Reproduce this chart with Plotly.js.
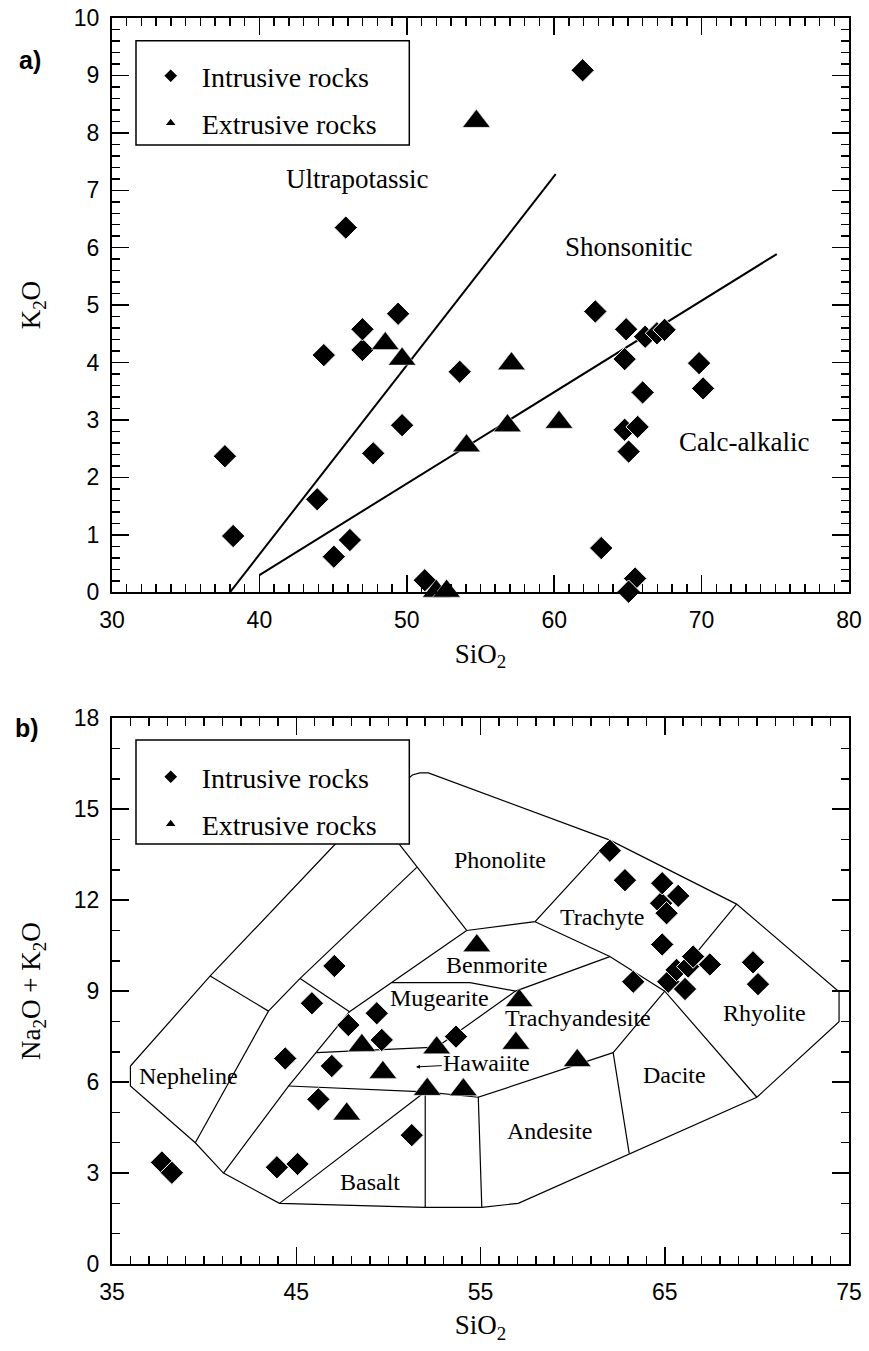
<!DOCTYPE html>
<html><head><meta charset="utf-8">
<script src="https://cdn.plot.ly/plotly-3.0.1.min.js"></script>
<style>html,body{margin:0;padding:0;background:#fff}</style>
</head><body><div id="chart" style="width:869px;height:1351px"></div>
<script>
// ---------- Panel a) K2O vs SiO2 ----------
const intrusiveA_SiO2 = [37.66, 38.22, 43.92, 44.37, 45.05, 45.86, 46.14, 46.99, 46.99, 47.72, 49.41, 49.68, 51.22, 53.59, 61.93, 62.79, 63.19, 64.78, 64.78, 64.88, 65.49, 65.05, 65.05, 65.66, 66.0, 66.17, 66.97, 67.49, 69.83, 70.10];
const intrusiveA_K2O  = [2.37, 0.98, 1.62, 4.13, 0.62, 6.35, 0.91, 4.22, 4.58, 2.42, 4.85, 2.91, 0.21, 3.84, 9.09, 4.89, 0.77, 4.06, 2.83, 4.58, 0.24, 0.01, 2.45, 2.88, 3.48, 4.45, 4.51, 4.57, 3.99, 3.55];
const extrusiveA_SiO2 = [48.54, 49.68, 52.0, 52.7, 54.05, 54.72, 56.83, 57.10, 60.33];
const extrusiveA_K2O  = [4.33, 4.06, 0.02, 0.02, 2.55, 8.2, 2.9, 3.98, 2.96];
// series boundaries
const ultraBoundX = [38.0, 60.1];
const ultraBoundY = [0.0, 7.28];
const shoshBoundX = [40.0, 75.1];
const shoshBoundY = [0.3, 5.89];

// ---------- Panel b) TAS ----------
const intrusiveB_SiO2 = [37.71, 38.25, 43.95, 44.4, 45.07, 45.85, 46.2, 46.93, 47.07, 47.83, 49.37, 49.64, 51.27, 53.67, 62.02, 62.84, 63.29, 64.8, 64.86, 64.86, 65.1, 65.19, 65.64, 65.73, 66.1, 66.27, 66.54, 67.45, 69.79, 70.06];
const intrusiveB_Alk  = [3.35, 3.01, 3.19, 6.78, 3.30, 8.6, 5.43, 6.53, 9.83, 7.88, 8.27, 7.39, 4.25, 7.5, 13.63, 12.66, 9.31, 11.9, 12.56, 10.54, 11.57, 9.31, 9.70, 12.14, 9.07, 9.81, 10.14, 9.88, 9.95, 9.23];
const extrusiveB_SiO2 = [47.74, 48.56, 49.7, 52.11, 52.62, 54.07, 54.8, 56.92, 57.1, 60.25];
const extrusiveB_Alk  = [4.95, 7.21, 6.32, 5.76, 7.13, 5.75, 10.5, 7.28, 8.69, 6.71];

// TAS field boundaries (SiO2, Na2O+K2O)
const tasOuterX = [36.0, 40.33, 47.07, 51.0, 51.3, 51.7, 52.17, 62.02, 68.9, 74.46, 74.46, 70.0, 57.05, 55.07, 52.0, 44.09, 41.05, 39.52, 36.0, 36.0];
const tasOuterY = [6.53, 9.5, 13.82, 15.98, 16.13, 16.2, 16.2, 13.98, 11.87, 8.98, 7.99, 5.5, 2.0, 1.87, 1.87, 2.0, 3.0, 4.0, 5.87, 6.53];
const tasB1X = [40.33, 43.49];            const tasB1Y = [9.5, 8.34];
const tasB2X = [39.52, 43.49, 45.21, 51.54]; const tasB2Y = [4.0, 8.34, 9.42, 13.08];
const tasB3X = [45.21, 47.89];            const tasB3Y = [9.42, 8.32];
const tasB4X = [41.05, 44.58, 47.89, 54.25]; const tasB4Y = [3.0, 5.87, 8.32, 11.0];
const tasB5X = [49.03, 54.25];            const tasB5Y = [15.06, 11.0];
const tasB6X = [54.25, 57.96, 62.02];     const tasB6Y = [11.0, 11.29, 13.98];
const tasB7X = [57.96, 62.02, 65.0, 70.0]; const tasB7Y = [11.29, 10.14, 9.0, 5.5];
const tasB8X = [68.9, 65.0];              const tasB8Y = [11.87, 9.0];
const tasB9X = [65.0, 62.2, 63.07];       const tasB9Y = [9.0, 6.97, 3.65];
const tasB10X = [62.2, 54.88, 55.07];     const tasB10Y = [6.97, 5.5, 1.87];
const tasB11X = [44.58, 52.0, 54.88];     const tasB11Y = [5.87, 5.68, 5.5];
const tasB12X = [52.0, 52.0];             const tasB12Y = [1.87, 5.68];
const tasB13X = [44.09, 52.0];            const tasB13Y = [2.0, 5.68];
const tasB14X = [46.1, 52.62];            const tasB14Y = [6.97, 7.15];
const tasB15X = [52.62, 56.9, 62.02];     const tasB15Y = [7.15, 9.0, 10.14];
const tasB16X = [50.18, 54.43, 56.9];     const tasB16Y = [9.28, 9.28, 9.0];

const tasLines = [
  [tasOuterX, tasOuterY], [tasB1X, tasB1Y], [tasB2X, tasB2Y], [tasB3X, tasB3Y], [tasB4X, tasB4Y],
  [tasB5X, tasB5Y], [tasB6X, tasB6Y], [tasB7X, tasB7Y], [tasB8X, tasB8Y], [tasB9X, tasB9Y],
  [tasB10X, tasB10Y], [tasB11X, tasB11Y], [tasB12X, tasB12Y], [tasB13X, tasB13Y], [tasB14X, tasB14Y],
  [tasB15X, tasB15Y], [tasB16X, tasB16Y]
];

const fieldNames = ['Phonolite', 'Trachyte', 'Benmorite', 'Mugearite', 'Trachyandesite', 'Nepheline', 'Basalt', 'Andesite', 'Dacite', 'Rhyolite'];
const fieldX = [56.06, 61.57, 55.88, 52.8, 60.3, 39.15, 49.0, 58.77, 65.55, 70.42];
const fieldY = [13.32, 11.45, 9.86, 8.76, 8.1, 6.2, 2.71, 4.4, 6.23, 8.27];

const seriesNames = ['Ultrapotassic', 'Shonsonitic', 'Calc-alkalic'];
const seriesX = [46.64, 65.06, 72.86];
const seriesY = [7.2, 6.02, 2.61];

// ---------- styling ----------
const SERIF = 'Liberation Serif, Times New Roman, serif';
const SANS = 'Liberation Sans, Arial, sans-serif';
const lineStyleA = {color: 'black', width: 2};
const lineStyleB = {color: 'black', width: 1.2};
const diamond = {symbol: 'diamond', size: 18, color: 'black', line: {color: 'white', width: 1}};
const triangle = {symbol: 'triangle-up', size: 24, color: 'black', line: {color: 'white', width: 0.5}};

const traces = [];
traces.push({x: ultraBoundX, y: ultraBoundY, xaxis: 'x', yaxis: 'y', mode: 'lines', line: lineStyleA, showlegend: false, hoverinfo: 'skip'});
traces.push({x: shoshBoundX, y: shoshBoundY, xaxis: 'x', yaxis: 'y', mode: 'lines', line: lineStyleA, showlegend: false, hoverinfo: 'skip'});
traces.push({x: intrusiveA_SiO2, y: intrusiveA_K2O, xaxis: 'x', yaxis: 'y', mode: 'markers', marker: diamond, name: 'Intrusive rocks', legend: 'legend', legendgroup: 'a1', cliponaxis: false});
traces.push({x: extrusiveA_SiO2, y: extrusiveA_K2O, xaxis: 'x', yaxis: 'y', mode: 'markers', marker: triangle, name: 'Extrusive rocks', legend: 'legend', legendgroup: 'a2', cliponaxis: false});
tasLines.forEach(function(l) {
  traces.push({x: l[0], y: l[1], xaxis: 'x2', yaxis: 'y2', mode: 'lines', line: lineStyleB, showlegend: false, hoverinfo: 'skip'});
});
traces.push({x: intrusiveB_SiO2, y: intrusiveB_Alk, xaxis: 'x2', yaxis: 'y2', mode: 'markers', marker: diamond, name: 'Intrusive rocks', legend: 'legend2', legendgroup: 'b1', cliponaxis: false});
traces.push({x: extrusiveB_SiO2, y: extrusiveB_Alk, xaxis: 'x2', yaxis: 'y2', mode: 'markers', marker: triangle, name: 'Extrusive rocks', legend: 'legend2', legendgroup: 'b2', cliponaxis: false});

function axis(extra) {
  const base = {
    showline: true, linecolor: 'black', linewidth: 2, mirror: 'ticks',
    ticks: 'inside', ticklen: 17, tickwidth: 1.5, tickcolor: 'black',
    showgrid: false, zeroline: false, fixedrange: true, automargin: false,
    tickfont: {family: SANS, size: 23, color: 'black'},
    ticklabelstandoff: 6
  };
  return Object.assign(base, extra);
}
function minor(dt) {
  return {ticks: 'inside', ticklen: 8, tickwidth: 1.5, tickcolor: 'black', dtick: dt, showgrid: false};
}

const annotations = [];
seriesNames.forEach(function(t, i) {
  annotations.push({text: t, x: seriesX[i], y: seriesY[i], xref: 'x', yref: 'y', showarrow: false,
    font: {family: SERIF, size: 27, color: 'black'}});
});
fieldNames.forEach(function(t, i) {
  annotations.push({text: t, x: fieldX[i], y: fieldY[i], xref: 'x2', yref: 'y2', showarrow: false,
    font: {family: SERIF, size: 24, color: 'black'}});
});
annotations.push({text: 'Hawaiite', x: 51.5, y: 6.5, xref: 'x2', yref: 'y2', ax: 55.34, ay: 6.62, axref: 'x2', ayref: 'y2',
  showarrow: true, arrowhead: 2, arrowsize: 0.8, arrowwidth: 1, arrowcolor: 'black', standoff: 0,
  font: {family: SERIF, size: 24, color: 'black'}});
annotations.push({text: '<b>a)</b>', x: -0.111, y: 0.9663, xref: 'paper', yref: 'paper', xanchor: 'center', yanchor: 'middle', showarrow: false,
  font: {family: SANS, size: 25, color: 'black'}});
annotations.push({text: '<b>b)</b>', x: -0.115, y: 0.430, xref: 'paper', yref: 'paper', xanchor: 'center', yanchor: 'middle', showarrow: false,
  font: {family: SANS, size: 25, color: 'black'}});

const legendStyle = {
  xanchor: 'left', yanchor: 'top', bgcolor: 'rgba(0,0,0,0)', borderwidth: 0,
  itemwidth: 52, itemsizing: 'constant', tracegroupgap: 8,
  font: {family: SERIF, size: 28, color: 'black'}
};

const layout = {
  width: 869, height: 1351,
  margin: {l: 112, r: 20, t: 18, b: 87},
  paper_bgcolor: 'white', plot_bgcolor: 'white',
  showlegend: true,
  xaxis: axis({domain: [0, 1], range: [30, 80], tick0: 30, dtick: 10, minor: minor(1), anchor: 'y',
    title: {text: 'SiO<sub>2</sub>', font: {family: SERIF, size: 27, color: 'black'}, standoff: 12}}),
  yaxis: axis({domain: [0.5391, 1], range: [0, 10], tick0: 0, dtick: 1, minor: minor(0.2), anchor: 'x',
    title: {text: 'K<sub>2</sub>O', font: {family: SERIF, size: 27, color: 'black'}, standoff: 25}}),
  xaxis2: axis({domain: [0, 1], range: [35, 75], tick0: 35, dtick: 10, minor: minor(1), anchor: 'y2',
    title: {text: 'SiO<sub>2</sub>', font: {family: SERIF, size: 27, color: 'black'}, standoff: 12}}),
  yaxis2: axis({domain: [0, 0.438], range: [0, 18], tick0: 0, dtick: 3, minor: minor(1), anchor: 'x2',
    title: {text: 'Na<sub>2</sub>O + K<sub>2</sub>O', font: {family: SERIF, size: 27, color: 'black'}, standoff: 25}}),
  legend: Object.assign({x: 0.0376, y: 0.9735}, legendStyle),
  legend2: Object.assign({x: 0.0376, y: 0.4109}, legendStyle),
  shapes: [
    {type: 'rect', xref: 'paper', yref: 'paper', x0: 0.03256, x1: 0.4034, y0: 0.8981, y1: 0.9818,
      line: {color: 'black', width: 1.5}, fillcolor: 'white', layer: 'above'},
    {type: 'rect', xref: 'paper', yref: 'paper', x0: 0.03256, x1: 0.4034, y0: 0.3371, y1: 0.4206,
      line: {color: 'black', width: 1.5}, fillcolor: 'white', layer: 'above'}
  ],
  annotations: annotations
};

Plotly.newPlot('chart', traces, layout, {staticPlot: true, displayModeBar: false});
</script></body></html>
